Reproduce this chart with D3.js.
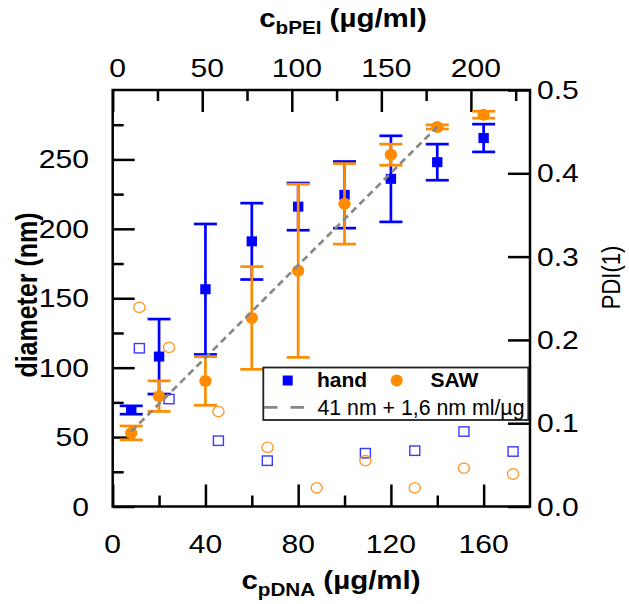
<!DOCTYPE html>
<html><head><meta charset="utf-8">
<script src="https://cdn.jsdelivr.net/npm/d3@7"></script>
<style>
body{margin:0;background:#fff}
svg{display:block}
text{font-family:"Liberation Sans",Arial,Helvetica,sans-serif;fill:#000}
</style>
</head><body>
<svg id="c" width="629" height="604"></svg>
<script>
// ---- data ----
const pDNA = [8, 20, 40, 60, 80, 100, 120, 140, 160];
const handDiameter = [69.5, 108, 156.5, 191, 216, 224.5, 236, 248, 265.4];
const handErr = [3, 27, 47, 27.5, 17, 24, 31, 13, 10];
const sawDiameter = [53, 79.5, 90.4, 135.8, 169.8, 218, 253.4, 273.4, 282.2];
const sawErr = [5, 11, 17.5, 37, 62.4, 29, 7.6, 1.5, 2.5];
const handPdiX = [11.5, 24.3, 45.6, 66.7, 109, 130.3, 151.5, 172.7];
const handPdi = [0.19, 0.129, 0.079, 0.055, 0.064, 0.067, 0.09, 0.066];
const sawPdiX = [11.5, 24.3, 45.6, 66.8, 88, 109, 130.3, 151.5, 172.7];
const sawPdi = [0.239, 0.191, 0.114, 0.071, 0.0224, 0.055, 0.0224, 0.046, 0.039];
const fitX = [8, 140];
const fitY = [54, 273.5];
const bottomTicks = [0, 40, 80, 120, 160];
const bottomMinor = [20, 60, 100, 140];
const topTicks = [0, 50, 100, 150, 200];
const topMinor = [25, 75, 125, 175, 225];
const leftTicks = [0, 50, 100, 150, 200, 250];
const leftMinor = [25, 75, 125, 175, 225, 275];
const rightTicks = [0, 0.1, 0.2, 0.3, 0.4, 0.5];
const rightLabels = ["0.0", "0.1", "0.2", "0.3", "0.4", "0.5"];
const legendLabels = ["hand", "SAW", "41 nm + 1,6 nm ml/\u00b5g"];

// ---- layout ----
const L = 112.7, R = 530, T = 90, B = 506.5;
const BLUE = "#0000ff", ORANGE = "#ff8c00";
const SX = 1.18; // horizontal text stretch seen in the reference

const svg = d3.select("#c");
const x = d3.scaleLinear().domain([0, 180]).range([L, R]);
const xTop = d3.scaleLinear().domain([0, 233]).range([L, R]);
const y = d3.scaleLinear().domain([0, 300]).range([B, T]);
const yR = d3.scaleLinear().domain([0, 0.5]).range([B, T]);

function styleAxis(g) {
  g.select(".domain").remove();
  g.selectAll(".tick line").attr("stroke", "#000").attr("stroke-width", 2.5);
  g.selectAll(".tick text").remove();
}
// ticks (inward)
svg.append("g").attr("transform", `translate(0,${B})`).call(d3.axisBottom(x).tickValues(bottomTicks).tickSize(-22).tickFormat("")).call(styleAxis);
svg.append("g").attr("transform", `translate(0,${B})`).call(d3.axisBottom(x).tickValues(bottomMinor).tickSize(-11).tickFormat("")).call(styleAxis);
svg.append("g").attr("transform", `translate(0,${T})`).call(d3.axisTop(xTop).tickValues(topTicks).tickSize(-22).tickFormat("")).call(styleAxis);
svg.append("g").attr("transform", `translate(0,${T})`).call(d3.axisTop(xTop).tickValues(topMinor).tickSize(-11).tickFormat("")).call(styleAxis);
svg.append("g").attr("transform", `translate(${L},0)`).call(d3.axisLeft(y).tickValues(leftTicks).tickSize(-22).tickFormat("")).call(styleAxis);
svg.append("g").attr("transform", `translate(${L},0)`).call(d3.axisLeft(y).tickValues(leftMinor).tickSize(-11).tickFormat("")).call(styleAxis);
svg.append("g").attr("transform", `translate(${R},0)`).call(d3.axisRight(yR).tickValues(rightTicks).tickSize(-22).tickFormat("")).call(styleAxis);

// frame
svg.append("rect").attr("x", L).attr("y", T).attr("width", R - L).attr("height", B - T)
  .attr("fill", "none").attr("stroke", "#000").attr("stroke-width", 2.5);

// tick labels
function stxt(px, py, s, anchor, size, weight) {
  return svg.append("text").attr("transform", `translate(${px},${py}) scale(${SX},1)`)
    .attr("text-anchor", anchor).attr("font-size", size).attr("font-weight", weight || "normal").text(s);
}
bottomTicks.forEach(v => stxt(x(v), 553, String(v), "middle", 25.5));
topTicks.forEach(v => stxt(xTop(v) + 5, 76.7, String(v), "middle", 25.5));
leftTicks.forEach(v => stxt(89, y(v) + 9, String(v), "end", 25.5));
rightTicks.forEach((v, i) => stxt(537, yR(v) + 9, rightLabels[i], "start", 25.5));

// axis titles
function subTitle(px, py, main, sub, rest) {
  const t = svg.append("text").attr("transform", `translate(${px},${py}) scale(${SX},1)`)
    .attr("text-anchor", "middle").attr("font-weight", "bold").attr("font-size", 25);
  t.append("tspan").text(main);
  t.append("tspan").attr("font-size", 17.5).attr("dy", 7.5).text(sub);
  t.append("tspan").attr("dy", -7.5).text(rest);
}
subTitle(331, 588.5, "c", "pDNA", " (\u00b5g/ml)");
subTitle(343, 26.7, "c", "bPEI", " (\u00b5g/ml)");
svg.append("text").attr("transform", `translate(36.5,295) scale(1.17,1) rotate(-90)`)
  .attr("text-anchor", "middle").attr("font-weight", "bold").attr("font-size", 25).text("diameter (nm)");
svg.append("text").attr("transform", `translate(619.5,277.5) scale(1.16,1) rotate(-90)`)
  .attr("text-anchor", "middle").attr("font-size", 22).text("PDI(1)");

// open PDI markers (right axis)
const gOpen = svg.append("g");
gOpen.selectAll("rect.o").data(handPdiX).join("rect")
  .attr("x", (d) => x(d) - 5).attr("y", (d, i) => yR(handPdi[i]) - 4.7)
  .attr("width", 10).attr("height", 9.4)
  .attr("fill", "none").attr("stroke", "#3a3aff").attr("stroke-width", 1.4);
gOpen.selectAll("ellipse.o").data(sawPdiX).join("ellipse")
  .attr("cx", (d) => x(d)).attr("cy", (d, i) => yR(sawPdi[i]))
  .attr("rx", 5.6).attr("ry", 5.2)
  .attr("fill", "none").attr("stroke", "#ff9a30").attr("stroke-width", 1.4);

// error bars
function errBars(vals, errs, color) {
  const g = svg.append("g").attr("stroke", color).attr("stroke-width", 2.7);
  pDNA.forEach((xv, i) => {
    const cx = x(xv), y1 = y(vals[i] + errs[i]), y2 = y(vals[i] - errs[i]);
    g.append("line").attr("x1", cx).attr("x2", cx).attr("y1", y1).attr("y2", y2);
    g.append("line").attr("x1", cx - 11.5).attr("x2", cx + 11.5).attr("y1", y1).attr("y2", y1);
    g.append("line").attr("x1", cx - 11.5).attr("x2", cx + 11.5).attr("y1", y2).attr("y2", y2);
  });
}
errBars(handDiameter, handErr, BLUE);
svg.append("g").selectAll("rect").data(pDNA).join("rect")
  .attr("x", d => x(d) - 5.2).attr("y", (d, i) => y(handDiameter[i]) - 5)
  .attr("width", 10.4).attr("height", 10).attr("fill", BLUE);
errBars(sawDiameter, sawErr, ORANGE);
svg.append("g").selectAll("ellipse").data(pDNA).join("ellipse")
  .attr("cx", d => x(d)).attr("cy", (d, i) => y(sawDiameter[i]))
  .attr("rx", 6.2).attr("ry", 6).attr("fill", ORANGE);

// fit line
svg.append("path").datum(fitX.map((v, i) => [v, fitY[i]]))
  .attr("d", d3.line().x(d => x(d[0])).y(d => y(d[1])))
  .attr("fill", "none").attr("stroke", "#888").attr("stroke-width", 2.7)
  .attr("stroke-dasharray", "7,4.5");

// legend
const lg = svg.append("g");
lg.append("rect").attr("x", 263.3).attr("y", 367.5).attr("width", 265).attr("height", 52.5)
  .attr("fill", "#fff").attr("stroke", "#222").attr("stroke-width", 1.8);
lg.append("rect").attr("x", 282.7).attr("y", 375.5).attr("width", 10).attr("height", 10).attr("fill", BLUE);
lg.append("text").attr("x", 317).attr("y", 387.3).attr("font-size", 21).attr("font-weight", "bold").text(legendLabels[0]);
lg.append("circle").attr("cx", 396.7).attr("cy", 380.5).attr("r", 6).attr("fill", ORANGE);
lg.append("text").attr("x", 430.5).attr("y", 387.3).attr("font-size", 21).attr("font-weight", "bold").text(legendLabels[1]);
lg.append("line").attr("x1", 264).attr("x2", 306).attr("y1", 407.3).attr("y2", 407.3)
  .attr("stroke", "#888").attr("stroke-width", 2.7).attr("stroke-dasharray", "13.5,13");
lg.append("text").attr("x", 317.5).attr("y", 415).attr("font-size", 21.3).text(legendLabels[2]);
</script>
</body></html>
